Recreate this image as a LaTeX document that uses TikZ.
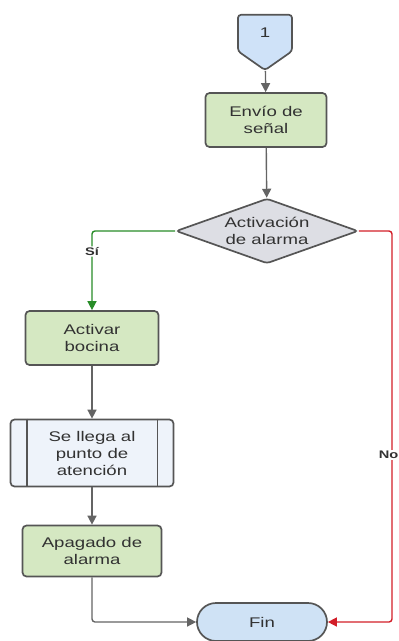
\documentclass[tikz,border=0pt]{standalone}
\usepackage{fontspec}
\setmainfont{Liberation Sans}[FakeStretch=1.33]
\usetikzlibrary{positioning,shapes.geometric,shapes.symbols,arrows.meta}
\definecolor{edge}{RGB}{85,85,85}
\definecolor{wire}{RGB}{100,100,100}
\definecolor{ink}{RGB}{50,50,50}
\definecolor{boxgreen}{RGB}{213,232,194}
\definecolor{conblue}{RGB}{207,226,248}
\definecolor{finblue}{RGB}{207,226,245}
\definecolor{decgray}{RGB}{221,222,228}
\definecolor{procblue}{RGB}{238,243,250}
\definecolor{yesgreen}{RGB}{40,140,40}
\definecolor{nored}{RGB}{210,30,40}

\begin{document}
\begin{tikzpicture}[x=1pt,y=-1pt,font=\fontsize{14}{17}\selectfont,
  box/.style={draw=edge,line width=1.7pt,rounded corners=4pt,fill=boxgreen,
    align=center,text=ink,inner sep=0pt},
  flow/.style={color=wire,line width=1.4pt,-{Triangle[width=9pt,length=9pt]}},
  tag/.style={font=\bfseries\fontsize{11}{13}\selectfont,fill=white,inner sep=1pt,text=ink}]
  \useasboundingbox (0,0) rectangle (399,641);
  % off-page connector and main column
  \node[signal,signal to=south,signal from=nowhere,signal pointer angle=110,
    draw=edge,line width=1.7pt,rounded corners=3pt,fill=conblue,text=ink,
    minimum width=54,minimum height=40,inner sep=0pt] (con) at (265,33) {1};
  \node[box,minimum width=121,minimum height=54] (env) at (266,120) {Envío de\\señal};
  \node[diamond,aspect=2.8,draw=edge,line width=1.7pt,rounded corners=3pt,fill=decgray,
    align=center,text=ink,inner sep=0pt,minimum width=182,minimum height=65]
    (dia) at (267,231) {Activación\\de alarma};
  \node[box,minimum width=133,minimum height=54] (act) at (92,338) {Activar\\bocina};
  \node[box,fill=procblue,minimum width=163,minimum height=67] (pro) at (92,453)
    {Se llega al\\punto de\\atención};
  \draw[draw=edge,line width=1.7pt] ([xshift=17]pro.north west) -- ([xshift=17]pro.south west)
    ([xshift=-17]pro.north east) -- ([xshift=-17]pro.south east);
  \node[box,minimum width=139,minimum height=51] (apa) at (92,551) {Apagado de\\alarma};
  \node[box,fill=finblue,rounded corners=19pt,minimum width=130,minimum height=38]
    (fin) at (262,622) {Fin};
  \coordinate (rc) at (392,455);

  \foreach \a/\b in {con/env, env/dia, act/pro, pro/apa}
    \draw[flow] (\a) -- (\b);
  \draw[flow,color=yesgreen,rounded corners=3pt] (dia.west) -| node[tag,pos=0.63]{Sí} (act.north);
  \draw[flow,color=nored,rounded corners=3pt] (dia.east) -| (rc) |- (fin.east);
  \node[tag,anchor=east,inner xsep=0.5pt] (no) at (399,455) {No};
  \draw[flow,rounded corners=3pt] (apa.south) |- (fin.west);
\end{tikzpicture}
\end{document}
